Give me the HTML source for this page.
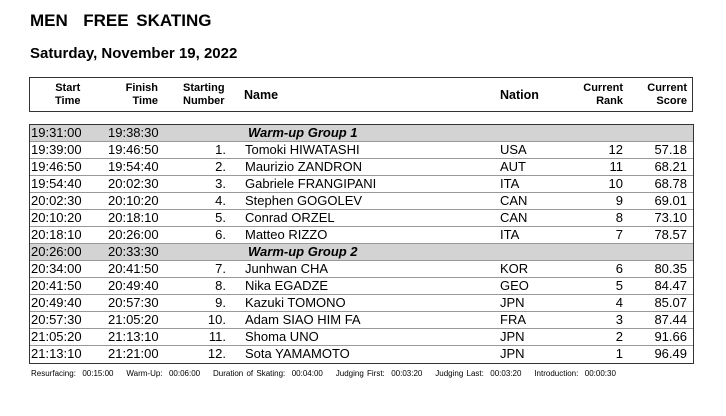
<!DOCTYPE html>
<html><head><meta charset="utf-8"><style>
body{margin:0;width:726px;height:416px;background:#fff;font-family:"Liberation Sans",Arial,sans-serif;color:#000;position:relative;overflow:hidden}
.a{position:absolute;white-space:nowrap}
h1{position:absolute;left:30px;top:11px;margin:0;font-size:17px;font-weight:bold;word-spacing:3px}
h2{position:absolute;left:30px;top:45px;margin:0;font-size:15px;font-weight:bold}
.hdr{position:absolute;left:29px;top:77px;width:664px;height:35px;border:1.5px solid #333;box-sizing:border-box}
.hb{font-weight:bold;font-size:11px;line-height:13px}
.body{position:absolute;left:29px;top:124px;width:665px;border:1.5px solid #333;box-sizing:border-box}
.row{position:relative;height:17px;border-bottom:1px solid #999;box-sizing:border-box;font-size:13px;line-height:16px}
.row:last-child{border-bottom:none}
.g{background:#d3d3d3}
.row span{position:absolute;top:0}
.foot{position:absolute;left:31px;top:369px;font-size:8px;word-spacing:1px}
</style></head><body>
<h1>MEN &nbsp;FREE SKATING</h1>
<h2>Saturday, November 19, 2022</h2>
<div class="hdr"></div>
<div class="a hb" style="left:55px;top:82px;text-align:center">Start<br>Time</div>
<div class="a hb" style="left:122px;top:82px;text-align:right;width:36px">Finish<br>Time</div>
<div class="a hb" style="left:183px;top:82px;text-align:center">Starting<br>Number</div>
<div class="a hb" style="left:244px;top:89px;font-size:12.5px">Name</div>
<div class="a hb" style="left:500px;top:89px;font-size:12.5px">Nation</div>
<div class="a hb" style="left:572px;top:82px;width:51px;text-align:right">Current<br>Rank</div>
<div class="a hb" style="left:636px;top:82px;width:51px;text-align:right">Current<br>Score</div>
<div class="body" id="tb"></div>
<div class="foot a">Resurfacing: &nbsp;00:15:00 &nbsp;&nbsp;&nbsp;Warm-Up: &nbsp;00:06:00 &nbsp;&nbsp;&nbsp;Duration of Skating: &nbsp;00:04:00 &nbsp;&nbsp;&nbsp;Judging First: &nbsp;00:03:20 &nbsp;&nbsp;&nbsp;Judging Last: &nbsp;00:03:20 &nbsp;&nbsp;&nbsp;Introduction: &nbsp;00:00:30</div>
<script>
const rows=[
["19:31:00","19:38:30","G","Warm-up Group 1"],
["19:39:00","19:46:50","1.","Tomoki HIWATASHI","USA","12","57.18"],
["19:46:50","19:54:40","2.","Maurizio ZANDRON","AUT","11","68.21"],
["19:54:40","20:02:30","3.","Gabriele FRANGIPANI","ITA","10","68.78"],
["20:02:30","20:10:20","4.","Stephen GOGOLEV","CAN","9","69.01"],
["20:10:20","20:18:10","5.","Conrad ORZEL","CAN","8","73.10"],
["20:18:10","20:26:00","6.","Matteo RIZZO","ITA","7","78.57"],
["20:26:00","20:33:30","G","Warm-up Group 2"],
["20:34:00","20:41:50","7.","Junhwan CHA","KOR","6","80.35"],
["20:41:50","20:49:40","8.","Nika EGADZE","GEO","5","84.47"],
["20:49:40","20:57:30","9.","Kazuki TOMONO","JPN","4","85.07"],
["20:57:30","21:05:20","10.","Adam SIAO HIM FA","FRA","3","87.44"],
["21:05:20","21:13:10","11.","Shoma UNO","JPN","2","91.66"],
["21:13:10","21:21:00","12.","Sota YAMAMOTO","JPN","1","96.49"]];
const tb=document.getElementById('tb');
rows.forEach(r=>{
const d=document.createElement('div');
d.className='row'+(r[2]==='G'?' g':'');


let h='<span style="left:1px">'+r[0]+'</span><span style="left:78px">'+r[1]+'</span>';
if(r[2]==='G'){h+='<span style="left:218px;font-weight:bold;font-style:italic">'+r[3]+'</span>';}
else{h+='<span style="left:160px;width:36px;text-align:right">'+r[2]+'</span><span style="left:215px">'+r[3]+'</span><span style="left:470px">'+r[4]+'</span><span style="left:560px;width:33px;text-align:right">'+r[5]+'</span><span style="left:610px;width:47px;text-align:right">'+r[6]+'</span>';}
d.innerHTML=h;tb.appendChild(d);});
</script>
</body></html>
